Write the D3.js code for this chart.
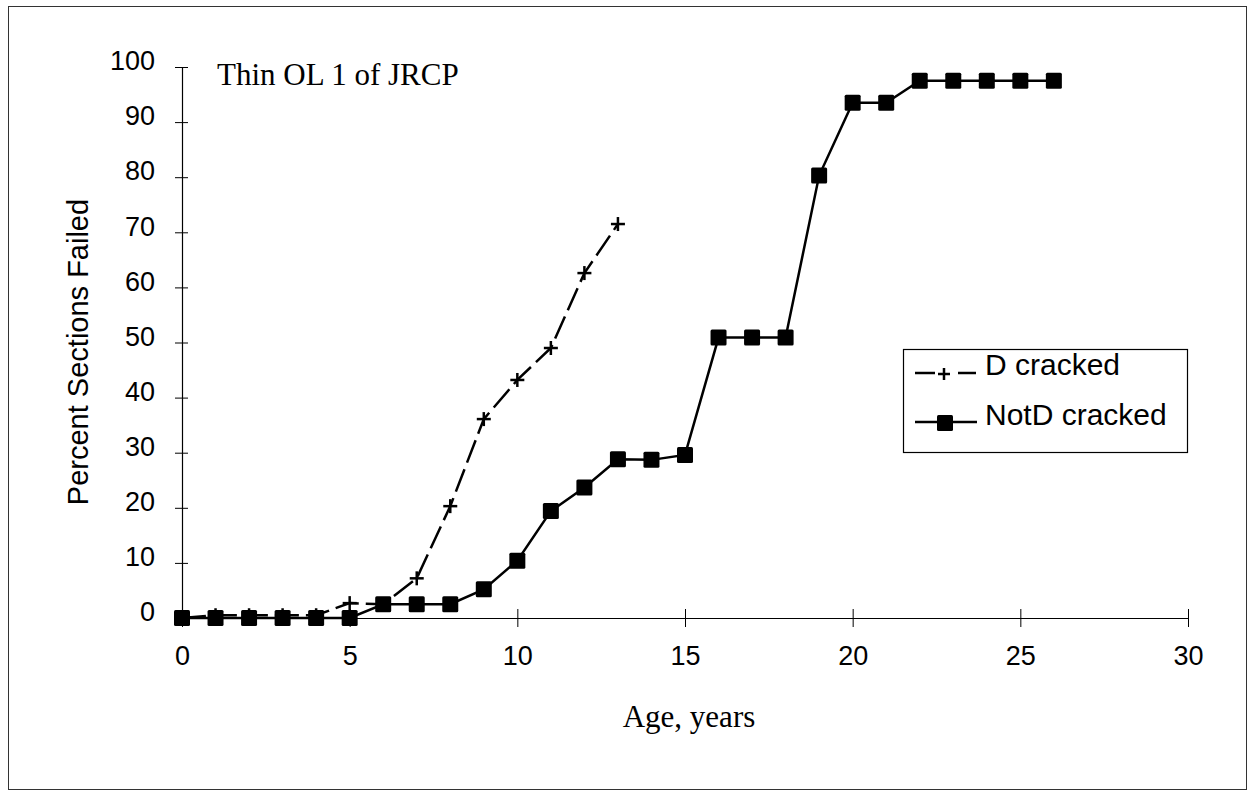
<!DOCTYPE html>
<html><head><meta charset="utf-8">
<script src="https://cdn.jsdelivr.net/npm/d3@7"></script>
<style>body{margin:0;background:#fff}svg{display:block}</style>
</head><body>
<script>
const ageD = [0,1,2,3,4,5,6,7,8,9,10,11,12,13];
const dCracked = [0,0.5,0.5,0.5,0.5,2.7,2.5,7.2,20.3,36.1,43.2,49,62.6,71.5];
const ageN = [0,1,2,3,4,5,6,7,8,9,10,11,12,13,14,15,16,17,18,19,20,21,22,23,24,25,26];
const notDCracked = [0,0,0,0,0,0,2.5,2.5,2.5,5.2,10.4,19.4,23.7,28.8,28.7,29.6,50.9,50.9,50.9,80.3,93.5,93.5,97.5,97.5,97.5,97.5,97.5];
const xTicks = [0,5,10,15,20,25,30];
const yTicks = [0,10,20,30,40,50,60,70,80,90,100];
const seriesNames = ["D cracked","NotD cracked"];

const W=1253,H=795;
const svg=d3.select("body").append("svg").attr("width",W).attr("height",H);
svg.append("rect").attr("x",8.5).attr("y",6.5).attr("width",1238).attr("height",783)
  .attr("fill","#fff").attr("stroke","#333").attr("stroke-width",1);

const x=d3.scaleLinear().domain([0,30]).range([182,1188]);
const y=d3.scaleLinear().domain([0,100]).range([618,67]);
const sans="'Liberation Sans', Arial, sans-serif", serif="'Liberation Serif','Times New Roman',serif";

const xa=svg.append("g").attr("transform","translate(0,618)")
  .call(d3.axisBottom(x).tickValues(xTicks).tickSize(0).tickPadding(28));
xa.select(".domain").attr("stroke","#000").attr("stroke-width",1.2);
xa.selectAll("text").attr("font-family",sans).attr("font-size",27).attr("fill","#000");
xa.selectAll(".tick").append("line").attr("y1",-9).attr("y2",9).attr("stroke","#000");

const ya=svg.append("g").attr("transform","translate(182,0)")
  .call(d3.axisLeft(y).tickValues(yTicks).tickSize(0).tickPadding(27));
ya.select(".domain").attr("stroke","#000").attr("stroke-width",1.2);
ya.selectAll("text").attr("font-family",sans).attr("font-size",27).attr("fill","#000").attr("dy","0.1em");
ya.selectAll(".tick").append("line").attr("x1",-7).attr("x2",6).attr("stroke","#000");

svg.append("text").attr("transform","translate(88,352) rotate(-90)").attr("text-anchor","middle")
  .attr("font-family",sans).attr("font-size",29).text("Percent Sections Failed");
svg.append("text").attr("x",689).attr("y",727).attr("text-anchor","middle")
  .attr("font-family",serif).attr("font-size",31).text("Age, years");
svg.append("text").attr("x",217).attr("y",85)
  .attr("font-family",serif).attr("font-size",31).text("Thin OL 1 of JRCP");

const line=d3.line().x(d=>x(d[0])).y(d=>y(d[1]));
const dD=ageD.map((a,i)=>[a,dCracked[i]]);
const dN=ageN.map((a,i)=>[a,notDCracked[i]]);

svg.append("path").datum(dN).attr("d",line).attr("fill","none").attr("stroke","#000").attr("stroke-width",2.5);
svg.selectAll(".sq").data(dN).enter().append("rect")
  .attr("x",d=>x(d[0])-8).attr("y",d=>y(d[1])-8).attr("width",16).attr("height",16).attr("rx",1.5).attr("fill","#000");

svg.append("path").datum(dD).attr("d",line).attr("fill","none").attr("stroke","#000").attr("stroke-width",2.5)
  .attr("stroke-dasharray","24,7");
const pl=svg.selectAll(".pl").data(dD).enter().append("g").attr("transform",d=>`translate(${x(d[0])},${y(d[1])})`);
pl.append("line").attr("x1",-7).attr("x2",7).attr("stroke","#000").attr("stroke-width",2.5);
pl.append("line").attr("y1",-7).attr("y2",7).attr("stroke","#000").attr("stroke-width",2.5);

// legend
const lg=svg.append("g");
lg.append("rect").attr("x",903.5).attr("y",349.5).attr("width",284).attr("height",103)
  .attr("fill","#fff").attr("stroke","#000").attr("stroke-width",1.2);
lg.append("line").attr("x1",915).attr("x2",935).attr("y1",373).attr("y2",373).attr("stroke","#000").attr("stroke-width",2.5);
lg.append("line").attr("x1",958).attr("x2",976).attr("y1",373).attr("y2",373).attr("stroke","#000").attr("stroke-width",2.5);
lg.append("line").attr("x1",938).attr("x2",950).attr("y1",374).attr("y2",374).attr("stroke","#000").attr("stroke-width",2.5);
lg.append("line").attr("x1",944).attr("x2",944).attr("y1",368).attr("y2",380).attr("stroke","#000").attr("stroke-width",2.5);
lg.append("text").attr("x",985).attr("y",375).attr("font-family",sans).attr("font-size",30).text(seriesNames[0]);
lg.append("line").attr("x1",915).attr("x2",977).attr("y1",422).attr("y2",422).attr("stroke","#000").attr("stroke-width",2.5);
lg.append("rect").attr("x",937).attr("y",415).attr("width",16).attr("height",16).attr("rx",1.5).attr("fill","#000");
lg.append("text").attr("x",985).attr("y",425).attr("font-family",sans).attr("font-size",30).text(seriesNames[1]);
</script>
</body></html>
